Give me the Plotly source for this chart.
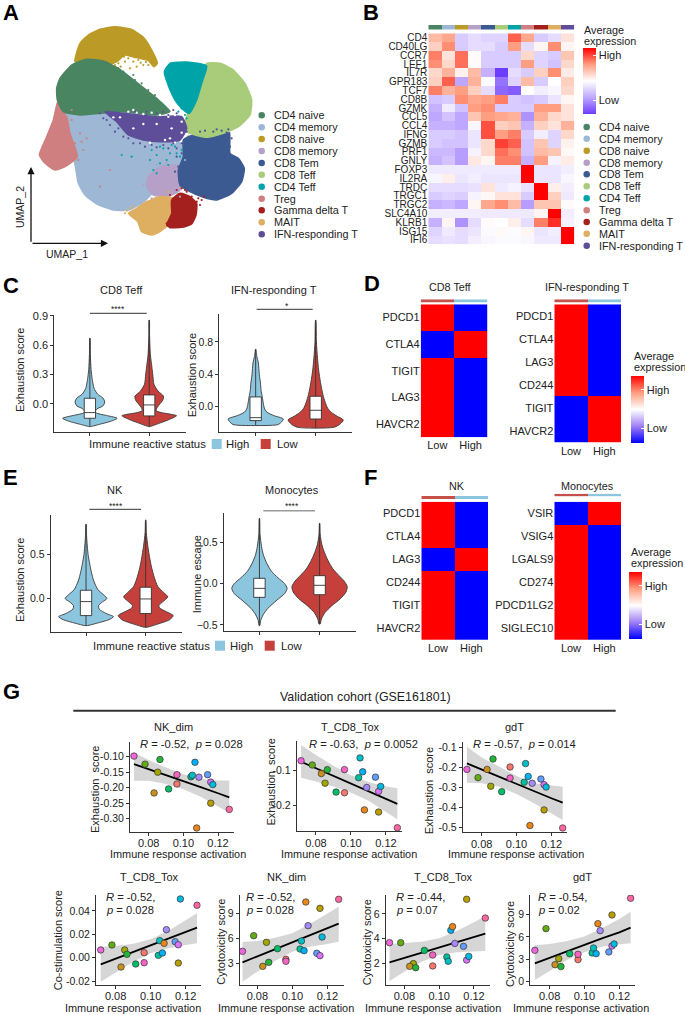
import plotly.graph_objects as go

W, H = 685, 1015
FONT = "Liberation Sans"
DARK = "#333333"

# ---------- Panel A ----------
cluster_names = ["CD4 naive", "CD4 memory", "CD8 naive", "CD8 memory", "CD8 Tem", "CD8 Teff",
                 "CD4 Teff", "Treg", "Gamma delta T", "MAIT", "IFN-responding T"]
cluster_colors = ["#4A8562", "#9DB7D4", "#BC9A26", "#B6A0C8", "#3C5A92", "#A8CC7A",
                  "#00A4A8", "#CF7F7F", "#A3201E", "#DEAE61", "#5E4E9A"]
umap_outline = {
    "CD4 memory": [(175,315),(300,300),(420,320),(500,370),(545,440),(550,490),(505,520),(465,570),(432,605),(385,630),(340,630),(290,612),(255,585),(235,550),(228,510),(220,470),(200,400)],
    "CD8 memory": [(465,510),(500,495),(545,500),(558,540),(535,575),(500,590),(460,585),(440,560),(445,530)],
    "Treg": [(175,300),(198,340),(210,400),(232,470),(195,500),(165,510),(135,490),(118,465),(140,410),(160,360)],
    "MAIT": [(385,640),(410,625),(440,605),(480,590),(520,595),(525,630),(510,670),(480,695),(455,705),(425,695),(413,665)],
    "Gamma delta T": [(515,600),(540,580),(570,590),(590,610),(588,645),(575,672),(545,682),(510,683),(500,675),(515,640)],
    "CD8 Tem": [(550,420),(590,402),(640,400),(688,398),(690,460),(715,475),(733,505),(725,545),(695,580),(650,600),(610,592),(570,575),(540,555),(535,510),(550,470)],
    "CD8 Teff": [(620,190),(660,190),(700,210),(735,250),(755,300),(750,345),(715,380),(670,400),(620,412),(570,400),(550,385),(565,335),(580,290),(600,220)],
    "CD4 Teff": [(493,215),(510,190),(560,186),(620,198),(605,250),(590,300),(568,340),(545,325),(525,300),(508,265)],
    "CD8 naive": [(225,185),(240,130),(265,105),(300,88),(345,80),(395,88),(430,112),(455,150),(472,190),(462,200),(445,182),(405,172),(375,165),(350,185),(310,200),(260,200)],
    "CD4 naive": [(170,265),(180,235),(215,195),(260,178),(310,183),(355,205),(420,255),(470,295),(510,335),(470,345),(420,340),(370,335),(300,340),(240,345),(190,335),(172,300)],
    "IFN-responding T": [(315,335),(370,340),(470,350),(545,350),(560,385),(540,420),(480,425),(430,420),(385,405),(350,365)],
}
umap_specks = {
    "CD8 naive": [(300,165),(320,155),(345,170),(365,160),(385,175),(400,185),(415,180),(430,195),(445,195),(375,185),(355,190),(335,180),(410,200),(390,205),(460,190),(352,160),(372,170),(392,168),(422,188),(438,186),(405,172),(362,200),(345,195)],
    "CD4 naive": [(370,215),(385,230),(405,240),(425,250),(445,270),(465,285),(485,310),(400,225),(355,205),(380,242),(410,262),(435,285),(455,305),(495,322),(475,320)],
    "IFN-responding T": [(300,340),(310,355),(330,375),(355,385),(385,415),(420,430),(455,435),(490,435),(520,430),(545,410),(560,395),(505,345),(470,340),(530,340),(440,345),(335,345),(345,395),(370,410),(400,430),(435,440),(470,442),(505,445),(530,445),(550,430),(565,410),(320,360),(405,335),(440,335),(490,335),(520,330)],
    "CD4 Teff": [(455,450),(470,465),(490,445),(510,460),(525,440),(545,450),(480,490),(460,510),(395,470),(365,465),(500,480),(540,470),(535,335),(545,325),(515,435),(480,440),(450,480),(530,460),(505,495),(470,520),(555,345),(560,355)],
    "CD8 Tem": [(600,395),(640,395),(680,398),(665,392),(545,460),(535,500),(615,392),(690,440),(545,430),(530,470),(525,515),(650,388),(685,388),(570,410),(695,415)],
    "Gamma delta T": [(590,605),(605,600),(575,590),(560,575),(530,570),(545,565),(500,670),(600,615),(510,585),(612,590),(595,595),(555,570)],
    "Treg": [(240,400),(225,430),(250,450),(235,480),(330,510),(300,560),(215,360),(260,415),(215,330),(245,425)],
    "MAIT": [(375,640),(390,625),(420,610),(465,595),(505,575),(400,620),(380,632)],
    "CD8 memory": [(440,540),(430,555),(470,495),(500,488),(540,590),(455,595)],
    "CD4 memory": [(200,345),(210,350),(530,430),(420,610),(555,480)],
}
umap_holes = [(385,335),(400,330),(410,338),(430,342),(455,338),(480,345),(505,350),(525,345),(545,365),(510,415),(525,428),(545,398),(450,428),(495,420),(360,352),(340,352),(470,372),(430,372),(515,385),(400,385)]
umap_order = ["CD4 memory","CD8 memory","Treg","MAIT","Gamma delta T","CD8 Tem","CD8 Teff","CD4 Teff","CD8 naive","CD4 naive","IFN-responding T"]

# ---------- Panel B ----------
genes_b = ["CD4","CD40LG","CCR7","LEF1","IL7R","GPR183","TCF7","CD8B","GZMK","CCL5","CCL4","IFNG","GZMB","PRF1","GNLY",
           "FOXP3","IL2RA","TRDC","TRGC1","TRGC2","SLC4A10","KLRB1","ISG15","IFI6"]
expr_b = [
 [.35,.45,-.3,-.2,-.25,-.25,.7,.45,-.3,-.2,.15],
 [.25,.55,-.3,-.2,-.2,-.3,.5,-.2,.05,.55,.05],
 [.6,.15,.65,.02,-.3,-.3,-.3,.2,-.25,-.3,.3],
 [.55,.2,.65,.02,-.3,-.3,-.3,.5,-.25,-.35,.2],
 [.2,.4,.07,.35,-.45,-1,-.2,-.3,.25,.55,.1],
 [.25,.7,-.5,.4,-.03,-.75,-.25,.35,-.3,.0,.25],
 [.6,.4,.5,.25,-.2,-.8,-.85,.0,-.1,-.05,.2],
 [-.35,-.3,.55,.45,.5,.6,-.3,-.35,-.3,-.15,.05],
 [-.45,-.12,-.35,.5,.55,-.3,-.3,-.3,.5,.5,.15],
 [-.5,-.35,-.5,.3,.5,.45,.4,-.6,.4,.2,.15],
 [-.45,-.45,-.5,-.05,.75,.25,.3,-.45,.25,.15,.4],
 [-.3,-.3,-.35,-.15,.75,.5,.6,-.3,-.1,-.25,.2],
 [-.3,-.35,-.35,-.15,.2,.8,.7,-.35,.3,-.25,.07],
 [-.4,-.4,-.55,-.07,.2,.65,.55,-.35,.35,.3,.03],
 [-.45,-.35,-.55,.12,.05,.6,.6,-.45,.5,-.07,.1],
 [-.12,-.12,-.12,-.12,-.12,-.12,-.12,1,-.15,-.15,-.1],
 [-.06,.08,-.15,-.1,-.15,-.15,-.15,1,-.15,-.15,-.05],
 [-.2,-.2,-.2,-.17,.15,-.12,-.07,-.17,1,.08,-.1],
 [-.3,-.25,-.28,-.07,.04,.15,.15,-.3,1,.25,-.12],
 [-.45,-.4,-.5,.05,.45,.55,.35,-.55,.3,.3,.02],
 [-.1,-.1,-.1,-.1,-.12,-.12,-.12,-.12,.05,1,-.1],
 [-.45,.05,-.6,-.2,.02,.0,.08,-.2,.6,.85,-.08],
 [-.25,-.12,-.2,-.15,-.03,.03,-.02,.05,-.15,-.1,1],
 [-.2,-.17,-.2,-.1,-.05,-.03,-.03,-.05,-.12,-.12,1],
]

# ---------- Panels C / E : violin profiles ----------
violins = {
 "c1": {
  "high": ([-.231,-.205,-.175,-.146,-.12,-.095,-.08,-.05,-.02,.02,.06,.1,.16,.25,.35,.5,.67],
           [.01,.18,.36,.46,.3,.12,.09,.12,.22,.25,.22,.13,.07,.04,.02,.008,.002],
           (-.146,-.088,.058)),
  "low": ([-.231,-.19,-.16,-.12,-.09,-.07,-.04,0,.04,.08,.13,.2,.3,.4,.5,.7,.856],
          [.01,.2,.33,.46,.22,.12,.13,.18,.23,.24,.15,.08,.06,.04,.02,.006,.002],
          (-.122,-.01,.092))},
 "c2": {
  "high": ([-.231,-.22,-.19,-.153,-.11,-.07,-.03,.03,.12,.2,.29,.4,.54,.62,.71],
           [.28,.38,.43,.46,.3,.19,.15,.13,.11,.09,.08,.06,.045,.02,.002],
           (-.173,-.136,.12)),
  "low": ([-.256,-.22,-.165,-.12,-.07,-.02,.05,.15,.3,.45,.6,.8,1.07],
          [.3,.4,.46,.36,.26,.2,.16,.12,.08,.05,.03,.012,.002],
          (-.153,-.045,.128))},
 "e1": {
  "high": ([-.307,-.28,-.24,-.205,-.17,-.12,-.08,-.04,0,.04,.1,.2,.3,.4,.5,.7,.845],
           [.02,.18,.38,.46,.34,.22,.21,.27,.35,.3,.2,.13,.09,.06,.035,.01,.002],
           (-.193,-.034,.095)),
  "low": ([-.326,-.29,-.24,-.193,-.15,-.11,-.08,-.04,.02,.07,.14,.25,.35,.45,.6,.75,.894],
          [.02,.2,.4,.46,.35,.24,.22,.28,.37,.3,.2,.14,.1,.07,.035,.01,.002],
          (-.17,-.004,.129))},
 "e2": {
  "high": ([-.51,-.45,-.38,-.3,-.2,-.12,-.057,0,.07,.15,.25,.35,.45,.6,.793],
           [.005,.02,.06,.14,.29,.42,.46,.42,.31,.2,.12,.065,.035,.01,.002],
           (-.166,-.057,.065)),
  "low": ([-.49,-.43,-.35,-.27,-.18,-.1,-.036,.03,.1,.18,.28,.38,.48,.6,.733],
          [.01,.03,.09,.2,.35,.44,.46,.41,.32,.22,.14,.08,.035,.01,.002],
          (-.134,-.02,.097))},
}

# ---------- Panels D / F ----------
genes_d1 = ["PDCD1","CTLA4","TIGIT","LAG3","HAVCR2"]
expr_d1 = [[1,-1],[-1,1],[1,-1],[1,-1],[1,-1]]
genes_d2 = ["PDCD1","CTLA4","LAG3","CD244","TIGIT","HAVCR2"]
expr_d2 = [[1,-1],[1,-1],[1,-1],[1,-1],[-1,1],[-1,1]]
genes_f1 = ["PDCD1","CTLA4","LAG3","CD244","TIGIT","HAVCR2"]
expr_f1 = [[1,-1],[1,-1],[-1,1],[1,-1],[1,-1],[1,-1]]
genes_f2 = ["VSIR","VSIG4","LGALS9","CD274","PDCD1LG2","SIGLEC10"]
expr_f2 = [[-1,1],[1,-1],[1,-1],[1,-1],[1,-1],[1,-1]]
groups = ["Low", "High"]

# ---------- Panel G ----------
activation = [.0715,.0779,.0852,.0831,.0865,.0915,.0963,.0963,.1044,.1052,.1067,.1077,.109,.114,.1158,.1158,.117,.1265]
sample_colors = ["#EE67DD","#64AC16","#A3A500","#C8911E","#22B53A","#00BE67","#F8766D","#F564C3","#00BF9C","#00BFC4",
                 "#00B0F6","#E7861B","#A58AFF","#619CFF","#B79F00","#DC71FA","#00BADE","#FF67A4"]
fit_x = [.0715,.08,.09,.10,.11,.12,.1265]
g_nk_exh = [-.098,-.124,-.15,-.217,-.109,-.204,-.188,-.158,-.165,-.16,-.118,-.33,-.166,-.158,-.25,-.182,-.19,-.27]
g_nk_exh_fit = [-.124,-.14,-.16,-.179,-.198,-.218,-.231]
g_nk_exh_hi = [-.087,-.111,-.135,-.157,-.171,-.177,-.177]
g_nk_exh_lo = [-.178,-.178,-.188,-.205,-.229,-.261,-.281]
g_tox_exh = [-.074,-.086,-.137,-.11,-.099,-.162,-.164,-.099,-.1215,-.066,-.105,-.212,-.149,-.12,-.218,-.16,-.146,-.262]
g_tox_exh_fit = [-.077,-.095,-.117,-.138,-.16,-.181,-.195]
g_tox_exh_hi = [-.03,-.058,-.088,-.115,-.134,-.146,-.151]
g_tox_exh_lo = [-.122,-.132,-.146,-.163,-.186,-.218,-.238]
g_gdt_exh = [-.21,-.251,-.294,-.21,-.158,-.321,-.198,-.253,-.274,-.181,-.245,-.49,-.279,-.258,-.412,-.286,-.298,-.502]
g_gdt_exh_fit = [-.18,-.211,-.246,-.283,-.318,-.354,-.376]
g_gdt_exh_hi = [-.097,-.15,-.196,-.243,-.279,-.291,-.296]
g_gdt_exh_lo = [-.276,-.279,-.296,-.333,-.379,-.429,-.462]
g_tox_cos = [.0066,.0109,.0066,-.008,.0029,-.0054,.0043,-.0043,.002,.0146,.004,.0123,.024,.0137,-.0046,.0111,.0503,.0449]
g_tox_cos_fit = [-.0057,-.0009,.0051,.0109,.0166,.0223,.0257]
g_tox_cos_hi = [.0094,.01,.012,.0157,.0229,.0323,.038]
g_tox_cos_lo = [-.0206,-.0126,-.0034,.0037,.008,.0109,.0123]
g_nk_cyt = [4.48,6.36,5.56,2.68,3.16,4.8,3.52,3.28,4.76,5.72,4.56,10.4,7.56,4.24,9.64,3.96,6.2,10.72]
g_nk_cyt_fit = [3.16,3.88,4.72,5.52,6.36,7.24,7.8]
g_nk_cyt_hi = [5.6,5.72,6.12,6.64,7.76,9.04,9.84]
g_nk_cyt_lo = [.84,2.04,3.32,4.44,5.04,5.36,5.64]
g_tox_cyt = [3.66,3.66,1.95,1.73,1.62,3.03,1.76,2.65,2.49,2.14,4.67,4.97,3.6,3.36,7.2,2.24,2.54,5.67]
g_tox_cyt_fit = [2.05,2.41,2.84,3.25,3.69,4.1,4.39]
g_tox_cyt_hi = [3.55,3.61,3.74,4.01,4.61,5.32,5.84]
g_tox_cyt_lo = [.53,1.29,2.11,2.65,2.87,2.93,2.98]
g_gdt_cyt = [4.21,7.12,3.09,2.28,2.02,3.76,2.96,3.67,3.85,4.52,3.76,7.79,6.85,3.99,8.96,4.79,5.06,11.2]
g_gdt_cyt_fit = [2.46,3.22,4.12,4.97,5.82,6.63,7.25]
g_gdt_cyt_hi = [4.88,5.06,5.46,6.05,7.17,8.42,9.4]
g_gdt_cyt_lo = [.22,1.43,2.91,3.94,4.7,5.02,5.15]

# ---------- helpers ----------
fig = go.Figure()
annotations, shapes = [], []
_n = [0]

def px_x(x): return x / W
def px_y(y): return 1 - y / H

def text(x, y, s, size=11, anchor="center", angle=0, color="#222222"):
    annotations.append(dict(x=px_x(x), y=px_y(y), xref="paper", yref="paper", text=s, showarrow=False,
                            xanchor=anchor, yanchor="middle", textangle=angle, borderpad=0,
                            font=dict(size=size, color=color, family=FONT)))

def hline(x0, x1, y, color=DARK, width=1):
    shapes.append(dict(type="line", xref="paper", yref="paper", x0=px_x(x0), x1=px_x(x1),
                       y0=px_y(y), y1=px_y(y), line=dict(color=color, width=width)))

def axes(x0, x1, y0, y1, xcfg=None, ycfg=None):
    _n[0] += 1
    i = _n[0]
    sx = "" if i == 1 else str(i)
    base = dict(showgrid=False, zeroline=False, fixedrange=True)
    xa = dict(base, domain=[x0/W, x1/W], anchor="y"+sx, **(xcfg or {}))
    ya = dict(base, domain=[1-y1/H, 1-y0/H], anchor="x"+sx, **(ycfg or {}))
    fig.update_layout({"xaxis"+sx: xa, "yaxis"+sx: ya})
    return dict(xaxis="x"+sx, yaxis="y"+sx)

def stat_axis(rng, size=11, **kw):
    return dict(range=rng, showline=True, linecolor=DARK, linewidth=1, ticks="outside", ticklen=3,
                tickcolor=DARK, tickfont=dict(size=size, color="#222222", family=FONT), **kw)

# ---------- A ----------
umap_ax = axes(0, 360, 0, 270, dict(visible=False, range=[0, 1080]), dict(visible=False, range=[810, 0]))
col = dict(zip(cluster_names, cluster_colors))
for name in umap_order:
    pts = umap_outline[name]
    fig.add_trace(go.Scatter(x=[p[0] for p in pts]+[pts[0][0]], y=[p[1] for p in pts]+[pts[0][1]], mode="lines",
                             fill="toself", fillcolor=col[name], line=dict(color=col[name], width=1.5, shape="spline", smoothing=.5),
                             name=name, hoverinfo="name", showlegend=False, **umap_ax))
fig.add_trace(go.Scatter(x=[p[0] for p in umap_holes], y=[p[1] for p in umap_holes], mode="markers",
                         marker=dict(size=2.4, color="#FFFFFF"), hoverinfo="skip", showlegend=False, **umap_ax))
for name, pts in umap_specks.items():
    fig.add_trace(go.Scatter(x=[p[0] for p in pts], y=[p[1] for p in pts], mode="markers",
                             marker=dict(size=2.2, color=col[name]), hoverinfo="skip", showlegend=False, **umap_ax))

overlay = axes(0, W, 0, H, dict(visible=False, range=[0, W]), dict(visible=False, range=[H, 0]))

legend_a_y = [115.3,127.3,139,151,163,174.7,186.7,198.7,210.3,222.3,234.3]
legend_b_y = [127,138.7,150.7,162.7,174.3,186.3,198.3,210.3,222,233.7,245.7]
fig.add_trace(go.Scatter(x=[261.7]*11, y=legend_a_y, mode="markers", marker=dict(size=6.5, color=cluster_colors),
                         hoverinfo="skip", showlegend=False, **overlay))
fig.add_trace(go.Scatter(x=[586.7]*11, y=legend_b_y, mode="markers", marker=dict(size=6.5, color=cluster_colors),
                         hoverinfo="skip", showlegend=False, **overlay))
for n, ya, yb in zip(cluster_names, legend_a_y, legend_b_y):
    text(272.7, ya, n, 10.8, "left")
    text(598.3, yb, n, 10.8, "left")

# UMAP arrows
for (ax_, ay_, x_, y_) in [(31, 243.3, 31, 167), (31, 243.3, 108, 243.3)]:
    annotations.append(dict(x=px_x(x_), y=px_y(y_), ax=ax_-x_, ay=ay_-y_, xref="paper", yref="paper",
                            axref="pixel", ayref="pixel", text="", showarrow=True, arrowhead=2, arrowsize=1.1,
                            arrowwidth=1.3, arrowcolor="#111111"))
text(67.3, 254.3, "UMAP_1", 10.5)
text(19.3, 206.7, "UMAP_2", 10.5, angle=-90)

# ---------- B ----------
RB_SCALE = [[0, "#6C3CFF"], [.25, "#BEA8FF"], [.5, "#FFFFFF"], [.75, "#FF9E80"], [1, "#FF0000"]]
BWR_SCALE = [[0, "#0000FF"], [.25, "#A080F5"], [.5, "#FFFFFF"], [.75, "#FF9E80"], [1, "#FF0000"]]

def colorbar(x, y0, y1, hi, lo, size=11):
    return dict(x=x/W, xanchor="left", xpad=0, ypad=0, y=1-y1/H, yanchor="bottom", len=y1-y0, lenmode="pixels",
                thickness=13.4, thicknessmode="pixels", outlinewidth=0, borderwidth=0,
                tickmode="array", tickvals=[hi, lo], ticktext=["High", "Low"], ticks="inside", ticklen=3,
                tickcolor="#FFFFFF", tickfont=dict(size=size, color="#222222", family=FONT))

def tick_axis(labels, size, reverse=False):
    d = dict(type="category", categoryorder="array", categoryarray=labels, showline=False, ticks="",
             tickmode="array", tickvals=labels, ticktext=labels, tickfont=dict(size=size, color="#222222", family=FONT))
    if reverse:
        d["autorange"] = "reversed"
    return d

bx = axes(428.3, 574.3, 33.3, 244.3, dict(visible=False), tick_axis(genes_b, 10, True))
fig.add_trace(go.Heatmap(z=expr_b, y=genes_b, x=cluster_names, zmin=-1, zmax=1, colorscale=RB_SCALE, hoverongaps=False,
                         colorbar=colorbar(582.7, 47.7, 114, .78, -.58), **bx))
stepped = []
for i, c in enumerate(cluster_colors):
    stepped += [[i/11, c], [(i+1)/11, c]]
ba = axes(428.3, 574.3, 25, 29.5, dict(visible=False), dict(visible=False))
fig.add_trace(go.Heatmap(z=[list(range(11))], zmin=-.5, zmax=10.5, colorscale=stepped, showscale=False, hoverinfo="skip", **ba))
text(583.3, 30, "Average", 10.8, "left")
text(583.3, 40.7, "expression", 10.8, "left")

# ---------- violins ----------
HIGH, LOW = "#8CC5DE", "#C5403A"
def violin_panel(key, box, xr, yr, ticks, ticktext, ylabel, ylabel_xy, title, title_x, title_y, sig, stars, star_xy, sig_color=DARK, sig_w=1, tick_size=10.5):
    ax = axes(box[0], box[1], box[2], box[3],
              stat_axis(xr, tickmode="array", tickvals=[0, 1], ticktext=["", ""]),
              stat_axis(yr, size=tick_size, tickmode="array", tickvals=ticks, ticktext=ticktext))
    top = axes(box[0], box[1], box[2], box[3], dict(visible=False, range=xr), dict(visible=False, range=yr))
    for i, (grp, colr) in enumerate([("high", HIGH), ("low", LOW)]):
        s, w, (q1, med, q3) = violins[key][grp]
        xs = [i + v for v in w] + [i - v for v in reversed(w)] + [i + w[0]]
        ys = list(s) + list(reversed(s)) + [s[0]]
        fig.add_trace(go.Scatter(x=xs, y=ys, mode="lines", fill="toself", fillcolor=colr,
                                 line=dict(color="#3A3A3A", width=.9, shape="spline", smoothing=.7),
                                 name=grp, hoverinfo="name", showlegend=False, **ax))
        fig.add_trace(go.Box(x=[i], q1=[q1], median=[med], q3=[q3], lowerfence=[s[0]], upperfence=[s[-1]],
                             width=.19, fillcolor="#FFFFFF", line=dict(color="#333333", width=.9), whiskerwidth=0,
                             boxpoints=False, hoverinfo="skip", showlegend=False, **top))
    text(title_x, title_y, title, 11)
    text(ylabel_xy[0], ylabel_xy[1], ylabel, 11, angle=-90)
    hline(sig[0], sig[1], sig[2], sig_color, sig_w)
    text(star_xy[0], star_xy[1], stars, 8.5)

violin_panel("c1", (54.3, 186, 315, 432.3), [-.6, 1.62], [-.289, .907], [0, .3, .6, .9], ["0.0", "0.3", "0.6", "0.9"],
             "Exhaustion score", (20, 370), "CD8 Teff", 121, 290, (90, 146.7, 313.3), "****", (118.3, 308.5), tick_size=11)
violin_panel("c2", (219.3, 351.7, 314.3, 432.3), [-.606, 1.6], [-.3175, 1.142], [0, .4, .8], ["0.0", "0.4", "0.8"],
             "Exhaustion score", (192.3, 375), "IFN-responding T", 274, 290, (256.7, 312.7, 309.3), "*", (286.7, 305.5))
violin_panel("e1", (50.7, 181.7, 515, 632.3), [-.592, 1.603], [-.383, .95], [0, .5], ["0.0", "0.5"],
             "Exhaustion score", (20, 580), "NK", 114.7, 490, (89.3, 141, 509.3), "****", (115.7, 506))
violin_panel("e2", (223.7, 355.7, 513.3, 630.7), [-.594, 1.6], [-.571, .854], [-.5, 0, .5], ["\u22120.5", "0.0", "0.5"],
             "Immune escape", (197.3, 574), "Monocytes", 292, 490, (263.3, 315, 510.7), "****", (292, 506), "#999999", 1.5)

# status legends
for y, xt, xh, xl in [(444, 88, 216.7, 265.7), (645.7, 92, 220, 269.7)]:
    text(xt, y, "Immune reactive status", 11.3, "left")
    fig.add_trace(go.Scatter(x=[xh, xl], y=[y, y], mode="markers", marker=dict(symbol="square", size=10, color=[HIGH, LOW]),
                             hoverinfo="skip", showlegend=False, **overlay))
    text(xh+8.5, y, "High", 11.3, "left")
    text(xl+10.5, y, "Low", 11.3, "left")

# ---------- D / F heatmaps ----------
def red_blue(genes, z, box, bar, title, title_xy, cb=None, size=11):
    ax = axes(box[0], box[1], box[2], box[3], tick_axis(groups, size), tick_axis(genes, size, True))
    kw = dict(colorbar=cb) if cb else dict(showscale=False)
    fig.add_trace(go.Heatmap(z=z, x=groups, y=genes, zmin=-1, zmax=1, colorscale=BWR_SCALE, **kw, **ax))
    b = axes(box[0], box[1], bar[0], bar[1], dict(visible=False), dict(visible=False))
    fig.add_trace(go.Heatmap(z=[[0, 1]], zmin=0, zmax=1, colorscale=[[0, "#C5504A"], [1, HIGH]], showscale=False, hoverinfo="skip", **b))
    text(title_xy[0], title_xy[1], title, 10.8)

red_blue(genes_d1, expr_d1, (420.7, 487.3, 304.3, 437.3), (299.3, 302.7), "CD8 Teff", (450, 287.3))
red_blue(genes_d2, expr_d2, (554.3, 621, 304.3, 442.7), (299.3, 302.7), "IFN-responding T", (586.7, 287.3),
         colorbar(631.3, 376.7, 443.3, .6, -.55))
text(632.7, 356, "Average", 10.8, "left")
text(632.7, 366.7, "expression", 10.8, "left")
red_blue(genes_f1, expr_f1, (421.3, 488, 501.7, 640), (496, 499), "NK", (456.7, 485.7))
red_blue(genes_f2, expr_f2, (554.3, 621, 501.7, 640), (493.7, 496.3), "Monocytes", (587.7, 485.7),
         colorbar(629.3, 572.7, 639.3, .6, -.55))
text(630, 551.7, "Average", 10.8, "left")
text(630, 562.7, "expression", 10.8, "left")

# ---------- G ----------
text(365, 696.7, "Validation cohort (GSE161801)", 12.4)
hline(73.3, 615.7, 710.7, DARK, 2)

def scatter_panel(box, xr, yr, yticks, yfmt, y, fit, hi, lo, title, tx, ty, ylabel, ylx, yly, xlx, xly, stat, sx, sy):
    ax = axes(box[0], box[1], box[2], box[3],
              stat_axis(xr, tickmode="array", tickvals=[.08, .10, .12], ticktext=["0.08", "0.10", "0.12"], ticklabelstandoff=-2),
              stat_axis(yr, size=10.5, tickmode="array", tickvals=yticks, ticktext=[yfmt.format(v) for v in yticks]))
    fig.add_trace(go.Scatter(x=fit_x + fit_x[::-1], y=hi + lo[::-1], mode="lines", fill="toself", fillcolor="#D6D6D6",
                             line=dict(width=0), hoverinfo="skip", showlegend=False, **ax))
    fig.add_trace(go.Scatter(x=fit_x, y=fit, mode="lines", line=dict(color="#000000", width=1.8),
                             hoverinfo="skip", showlegend=False, **ax))
    fig.add_trace(go.Scatter(x=activation, y=y, mode="markers", marker=dict(size=6.5, color=sample_colors, line=dict(color="#333333", width=.7)),
                             showlegend=False, **ax))
    text(tx, ty, title, 11)
    text(ylx, yly, ylabel, 11, angle=-90)
    text(xlx, xly, "Immune response activation", 10.9)
    for i, line in enumerate(stat):
        text(sx, sy + i*13.3, line, 11.2, "left")

scatter_panel((130, 234.3, 741.7, 832), [.0692, .1294], [-.343, -.0516], [-.30, -.25, -.20, -.15, -.10], "{:.2f}",
              g_nk_exh, g_nk_exh_fit, g_nk_exh_hi, g_nk_exh_lo, "NK_dim", 173.7, 726.7, "Exhaustion  score", 95, 790, 177.5, 853.7,
              ["<i>R</i> = -0.52,  <i>p</i> = 0.028"], 138.7, 744)
scatter_panel((296.7, 401.7, 740.7, 831.3), [.069, .129], [-.272, -.0178], [-.2, -.1], "{:.1f}",
              g_tox_exh, g_tox_exh_fit, g_tox_exh_hi, g_tox_exh_lo, "T_CD8_Tox", 350, 726.7, "Exhaustion  score", 270, 782.5, 349, 853.7,
              ["<i>R</i> = -0.63,  <i>p</i> = 0.0052"], 308.3, 744)
scatter_panel((462.7, 566.7, 741.7, 832.3), [.0691, .1288], [-.5236, -.0718], [-.5, -.4, -.3, -.2, -.1], "{:.1f}",
              g_gdt_exh, g_gdt_exh_fit, g_gdt_exh_hi, g_gdt_exh_lo, "gdT", 514.3, 726.7, "Exhaustion  score", 429.3, 791, 516.3, 853.7,
              ["<i>R</i> = -0.57,  <i>p</i> = 0.014"], 471.7, 744)
scatter_panel((96, 200.7, 895, 985), [.0688, .1286], [-.0234, .0537], [-.02, 0, .02, .04], "{:.2f}",
              g_tox_cos, g_tox_cos_fit, g_tox_cos_hi, g_tox_cos_lo, "T_CD8_Tox", 149.3, 877, "Co-stimulation score", 58.3, 940, 132.7, 1007.7,
              ["<i>R</i> = -0.52,", "<i>p</i> = 0.028"], 105.3, 897)
scatter_panel((239.7, 344.3, 895, 985), [.0699, .1297], [.44, 11.24], [3, 6, 9], "{:.0f}",
              g_nk_cyt, g_nk_cyt_fit, g_nk_cyt_hi, g_nk_cyt_lo, "NK_dim", 286.7, 877, "Cytotoxicity score", 220.7, 942, 285.5, 1007.7,
              ["<i>R</i> = -0.52,", "<i>p</i> = 0.028"], 244.7, 897)
scatter_panel((385.7, 490, 895, 985), [.0693, .1292], [.204, 7.55], [2, 4, 6], "{:.0f}",
              g_tox_cyt, g_tox_cyt_fit, g_tox_cyt_hi, g_tox_cyt_lo, "T_CD8_Tox", 443, 877, "Cytotoxicity score", 367.3, 942, 433.3, 1007.7,
              ["<i>R</i> = -0.44,", "<i>p</i> = 0.07"], 395, 897)
scatter_panel((530.3, 635, 895, 985), [.0689, .129], [-.45, 11.64], [0, 3, 6, 9], "{:.0f}",
              g_gdt_cyt, g_gdt_cyt_fit, g_gdt_cyt_hi, g_gdt_cyt_lo, "gdT", 582.7, 877, "Cytotoxicity score", 510, 944, 580.7, 1007.7,
              ["<i>R</i> = -0.54,", "<i>p</i> = 0.02"], 537.3, 897)

# ---------- panel letters ----------
for s, x, y in [("A", 2, 13), ("B", 362, 13), ("C", 2, 285), ("D", 363, 283), ("E", 2, 477), ("F", 363, 477), ("G", 2, 691.7)]:
    text(x, y, "<b>%s</b>" % s, 22, "left", color="#000000")

fig.update_layout(width=W, height=H, margin=dict(l=0, r=0, t=0, b=0, autoexpand=False), paper_bgcolor="#FFFFFF",
                  plot_bgcolor="rgba(0,0,0,0)", font=dict(family=FONT, size=11, color="#222222"),
                  annotations=annotations, shapes=shapes, showlegend=False, boxmode="overlay")
fig.write_html("out.html", config=dict(displayModeBar=False),
               post_script="document.body.style.margin='0';document.documentElement.style.overflow='hidden';")
